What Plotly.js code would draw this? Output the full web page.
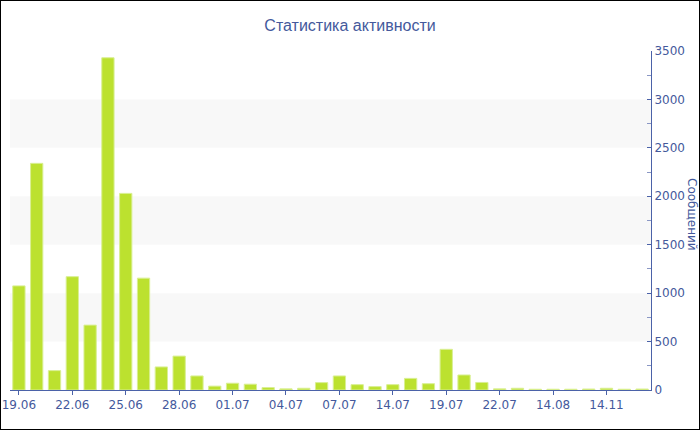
<!DOCTYPE html>
<html>
<head>
<meta charset="utf-8">
<script src="https://cdn.plot.ly/plotly-3.0.1.min.js"></script>
<style>
  html, body { margin: 0; padding: 0; background: #fff; }
  #wrap { position: relative; width: 700px; height: 430px; }
  #chart { width: 700px; height: 430px; }
  #frame { position: absolute; left: 0; top: 0; width: 700px; height: 430px;
           box-sizing: border-box; border: 1px solid #000; pointer-events: none; }
</style>
</head>
<body>
<div id="wrap">
  <div id="chart"></div>
  <div id="frame"></div>
</div>
<script>
// Days with messages (only every third one is labelled on the axis)
const days = [
  "19.06", "20.06", "21.06", "22.06", "23.06", "24.06", "25.06", "26.06", "27.06",
  "28.06", "29.06", "30.06", "01.07", "02.07", "03.07", "04.07", "05.07", "06.07",
  "07.07", "09.07", "11.07", "14.07", "15.07", "17.07", "19.07", "20.07", "21.07",
  "22.07", "24.07", "30.07", "14.08", "02.09", "10.10", "14.11", "03.12", "20.12"
];

// Messages per day
const messages = [
  1075, 2340, 200, 1170, 670, 3430, 2030, 1155, 238,
  350, 145, 40, 70, 60, 25, 12, 18, 76,
  145, 55, 35, 55, 120, 65, 420, 155, 78,
  12, 18, 8, 8, 8, 10, 18, 8, 10
];

// Shaded horizontal bands behind the bars
const bands = [[500, 1000], [1500, 2000], [2500, 3000]];

const labelled = days.filter((d, i) => i % 3 === 0);

const blue = "#44599c";
const axisBlue = "#4b62a8";

const trace = {
  type: "bar",
  x: days,
  y: messages,
  marker: { color: "#bce12f", line: { color: "#d9ef93", width: 1 } },
  hoverinfo: "x+y"
};

const layout = {
  width: 700,
  height: 430,
  margin: { l: 10, r: 49, t: 51, b: 40 },
  paper_bgcolor: "#ffffff",
  plot_bgcolor: "#ffffff",
  showlegend: false,
  bargap: 0.31,
  font: { family: "DejaVu Sans, sans-serif", size: 12, color: blue },
  title: {
    text: "Статистика активности",
    font: { family: "Liberation Sans, Arial, sans-serif", size: 16, color: blue },
    xref: "container", x: 0.5, xanchor: "center",
    yref: "container", y: 1 - 25 / 430, yanchor: "middle"
  },
  xaxis: {
    type: "category",
    range: [-0.5, days.length - 0.5],
    tickmode: "array",
    tickvals: labelled,
    ticktext: labelled,
    showline: true, linecolor: axisBlue, linewidth: 1,
    ticks: "outside", ticklen: 4, tickcolor: axisBlue,
    showgrid: false, zeroline: false,
    tickfont: { size: 12, color: blue },
    fixedrange: true
  },
  yaxis: {
    side: "right",
    range: [0, 3500],
    dtick: 500,
    showline: true, linecolor: axisBlue, linewidth: 1,
    ticks: "inside", ticklen: 4, tickcolor: axisBlue,
    minor: { dtick: 250, ticks: "inside", ticklen: 4, tickcolor: "#8a97c4" },
    showgrid: false, zeroline: false,
    tickfont: { size: 12, color: blue },
    fixedrange: true
  },
  shapes: bands.map(b => ({
    type: "rect", xref: "paper", yref: "y",
    x0: 0, x1: 1, y0: b[0], y1: b[1],
    fillcolor: "#f8f8f8", line: { width: 0 }, layer: "below"
  })),
  annotations: [{
    text: "Сообщений",
    xref: "paper", yref: "paper",
    x: 1 + (692 - 651) / 641, y: (390 - 214) / 339,
    xanchor: "center", yanchor: "middle",
    textangle: 90, showarrow: false,
    font: { family: "DejaVu Sans, sans-serif", size: 12, color: blue }
  }]
};

Plotly.newPlot("chart", [trace], layout, { displayModeBar: false, staticPlot: true });
</script>
</body>
</html>
